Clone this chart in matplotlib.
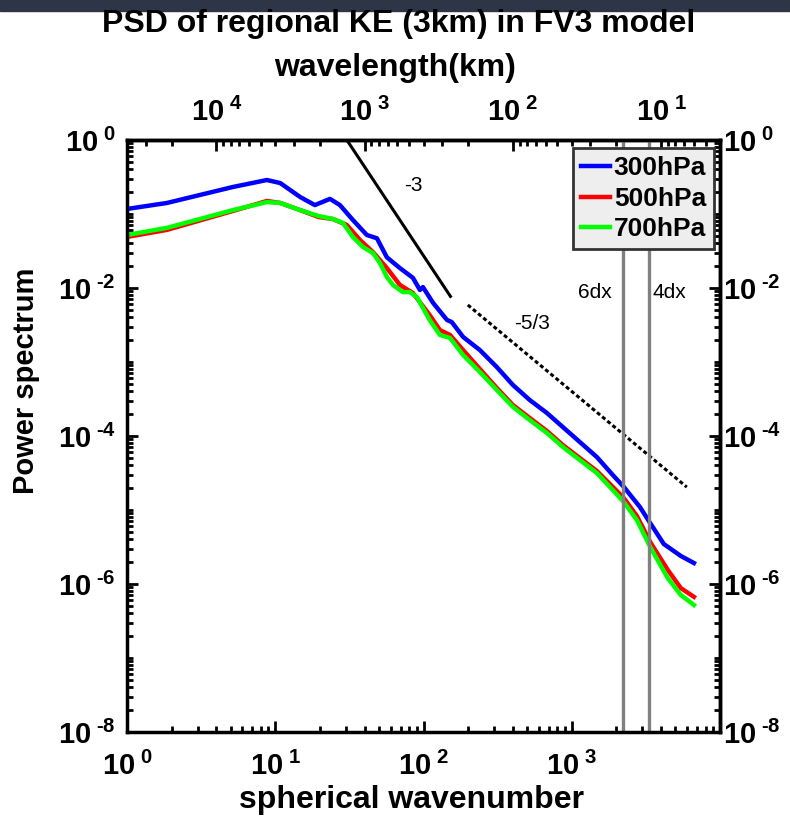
import matplotlib
matplotlib.use('Agg')
import matplotlib.pyplot as plt
from matplotlib.ticker import FixedLocator, LogLocator, NullFormatter
from matplotlib.patches import Rectangle

plt.rcParams['font.family'] = 'Liberation Sans'
plt.rcParams['mathtext.fontset'] = 'custom'
plt.rcParams['mathtext.rm'] = 'Liberation Sans:bold'
plt.rcParams['mathtext.bf'] = 'Liberation Sans:bold'
plt.rcParams['mathtext.default'] = 'bf'

# spherical wavenumber and power
n_300 = [1, 1.86, 5.19, 8.79, 10.8, 14.7, 18.5, 23.4, 27.3, 33.4, 41.5, 48.5, 56.6, 69.3,
         84.9, 94.6, 99.1, 116, 144, 155, 185, 240, 312, 401, 521, 679, 871, 1133, 1476,
         1892, 2245, 2880, 3413, 4177, 5443, 6672]
p_300 = [0.117, 0.141, 0.232, 0.288, 0.262, 0.170, 0.132, 0.160, 0.132, 0.083, 0.052, 0.047,
         0.026, 0.0186, 0.0137, 0.0094, 0.0103, 0.0063, 0.0037, 0.00347, 0.00218, 0.00145,
         8.55e-4, 4.89e-4, 3.06e-4, 2.05e-4, 1.32e-4, 8.3e-5, 5.2e-5, 2.97e-5, 2.05e-5,
         1.10e-5, 6.47e-6, 3.47e-6, 2.39e-6, 1.92e-6]

n_500 = [1, 1.86, 5.19, 8.79, 10.8, 14.7, 19.6, 24.5, 30.4, 37.3, 45.6, 56.6, 69.3, 84.9,
         110, 129, 151, 185, 240, 312, 401, 521, 679, 871, 1133, 1476, 1892, 2245, 2750,
         3413, 4443, 5443, 6672]
p_500 = [0.049, 0.061, 0.110, 0.150, 0.141, 0.113, 0.091, 0.0856, 0.071, 0.0445, 0.0306,
         0.0186, 0.0110, 0.00855, 0.00432, 0.0027, 0.00232, 0.00145, 8.04e-4, 4.46e-4,
         2.62e-4, 1.75e-4, 1.17e-4, 7.55e-5, 5.04e-5, 3.37e-5, 2.05e-5, 1.45e-5, 8.3e-6,
         3.58e-6, 1.55e-6, 8.8e-7, 6.7e-7]

n_700 = [1, 1.86, 5.19, 8.79, 10.8, 14.7, 19.6, 24.5, 28.6, 33.4, 39.0, 45.6, 50.8, 56.6,
         62.2, 69.3, 72.6, 80.9, 90.2, 110, 129, 151, 185, 240, 312, 401, 521, 679, 871,
         1133, 1476, 1892, 2245, 2750, 3413, 4443, 5443, 6672]
p_700 = [0.052, 0.065, 0.113, 0.145, 0.141, 0.113, 0.094, 0.0856, 0.0756, 0.0489, 0.0358,
         0.0297, 0.0218, 0.0141, 0.0110, 0.0094, 0.0088, 0.0088, 0.00755, 0.0037, 0.00232,
         0.00211, 0.00124, 7.33e-4, 4.19e-4, 2.47e-4, 1.64e-4, 1.10e-4, 7.1e-5, 4.74e-5,
         3.16e-5, 1.86e-5, 1.28e-5, 7.3e-6, 3.06e-6, 1.20e-6, 7.1e-7, 5.2e-7]

# reference slopes
slope3_n = [30.4, 152]
slope3_p = [1.0, 0.0077]
slope53_n = [199, 5970]
slope53_p = [0.0059, 2.04e-5]

earth_circ = 40030.0  # km
dx = 3.0
cut_n = [earth_circ / (6 * dx), earth_circ / (4 * dx)]

xticks = [1, 10, 100, 1000]
xtick_labels = [r'$10^{\;0}$', r'$10^{\;1}$', r'$10^{\;2}$', r'$10^{\;3}$']
yticks = [1e-8, 1e-6, 1e-4, 1e-2, 1]
ytick_labels = [r'$10^{\;\text{-8}}$', r'$10^{\;\text{-6}}$', r'$10^{\;\text{-4}}$',
                r'$10^{\;\text{-2}}$', r'$10^{\;0}$']
wl_ticks = [1e4, 1e3, 1e2, 1e1]
wl_labels = [r'$10^{\;4}$', r'$10^{\;3}$', r'$10^{\;2}$', r'$10^{\;1}$']


def style_ticks(axis_obj, pad):
    axis_obj.tick_params(which='both', direction='in', width=2, labelsize=21)
    axis_obj.tick_params(which='major', length=8, pad=pad)
    axis_obj.tick_params(which='minor', length=4)


fig = plt.figure(figsize=(7.9, 8.24), dpi=100)
fig.patches.append(Rectangle((0, 1 - 11 / 824), 1, 11 / 824, transform=fig.transFigure,
                             color='#2e3547', zorder=0))
ax = fig.add_axes([127 / 790, 1 - 732 / 824, 593 / 790, 592 / 824])

ax.plot(n_300, p_300, color='#0000ff', lw=3.2, label='300hPa')
ax.plot(n_500, p_500, color='#ff0000', lw=3.2, label='500hPa')
ax.plot(n_700, p_700, color='#00ff00', lw=3.2, label='700hPa')
ax.plot(slope3_n, slope3_p, color='black', lw=2.2)
ax.plot(slope53_n, slope53_p, color='black', lw=2.2, linestyle=(0, (1.3, 0.9)))
for c in cut_n:
    ax.axvline(c, color='#808080', lw=2.4)

ax.text(86, 0.246, '-3', fontsize=15, ha='center', va='center')
ax.text(538, 0.00336, '-5/3', fontsize=15, ha='center', va='center')
ax.text(1432, 0.0088, '6dx', fontsize=15, ha='center', va='center')
ax.text(4590, 0.0088, '4dx', fontsize=15, ha='center', va='center')

ax.set_xscale('log')
ax.set_yscale('log')
ax.set_xlim(1, 1e4)
ax.set_ylim(1e-8, 1)

ax.xaxis.set_major_locator(FixedLocator(xticks))
ax.set_xticklabels(xtick_labels)
ax.yaxis.set_major_locator(FixedLocator(yticks))
ax.set_yticklabels(ytick_labels)
ax.yaxis.set_minor_locator(LogLocator(base=10, subs=range(1, 10), numticks=30))
ax.yaxis.set_minor_formatter(NullFormatter())
ax.xaxis.set_minor_locator(LogLocator(base=10, subs=range(2, 10), numticks=30))
ax.xaxis.set_minor_formatter(NullFormatter())
style_ticks(ax, 8)
ax.tick_params(axis='x', which='major', pad=14)
ax.tick_params(which='both', top=False, right=False)
for s in ax.spines.values():
    s.set_linewidth(2.5)

# right axis copy of the power labels
secy = ax.secondary_yaxis('right')
secy.yaxis.set_major_locator(FixedLocator(yticks))
secy.set_yticklabels(ytick_labels)
secy.yaxis.set_minor_locator(LogLocator(base=10, subs=range(1, 10), numticks=30))
secy.yaxis.set_minor_formatter(NullFormatter())
style_ticks(secy, 2)
secy.spines['right'].set_linewidth(2.5)

# top axis: wavelength in km
sec = ax.secondary_xaxis('top', functions=(lambda n: earth_circ / n, lambda w: earth_circ / w))
sec.xaxis.set_major_locator(FixedLocator(wl_ticks))
sec.set_xticklabels(wl_labels)
sec.xaxis.set_minor_locator(LogLocator(base=10, subs=range(2, 10), numticks=30))
sec.xaxis.set_minor_formatter(NullFormatter())
style_ticks(sec, 9)
sec.spines['top'].set_linewidth(2.5)

leg = ax.legend(loc='upper right', bbox_to_anchor=(0.990, 0.986), borderaxespad=0,
                fancybox=False, framealpha=1, facecolor='#eeeeee', edgecolor='#333333',
                prop={'weight': 'bold', 'size': 19}, handlelength=1.1, handletextpad=0.15,
                borderpad=0.3, labelspacing=0.25)
leg.get_frame().set_linewidth(2)

fig.text(0.504, 1 - 24 / 824, 'PSD of regional KE (3km) in FV3 model', fontsize=23,
         fontweight='bold', ha='center', va='center')
fig.text(0.5, 1 - 68 / 824, 'wavelength(km)', fontsize=23, fontweight='bold',
         ha='center', va='center')
fig.text(0.521, 1 - 800 / 824, 'spherical wavenumber', fontsize=23, fontweight='bold',
         ha='center', va='center')
fig.text(26 / 790, 1 - 381 / 824, 'Power spectrum', fontsize=21, fontweight='bold',
         ha='center', va='center', rotation=90)

fig.savefig('out.png', dpi=100)
